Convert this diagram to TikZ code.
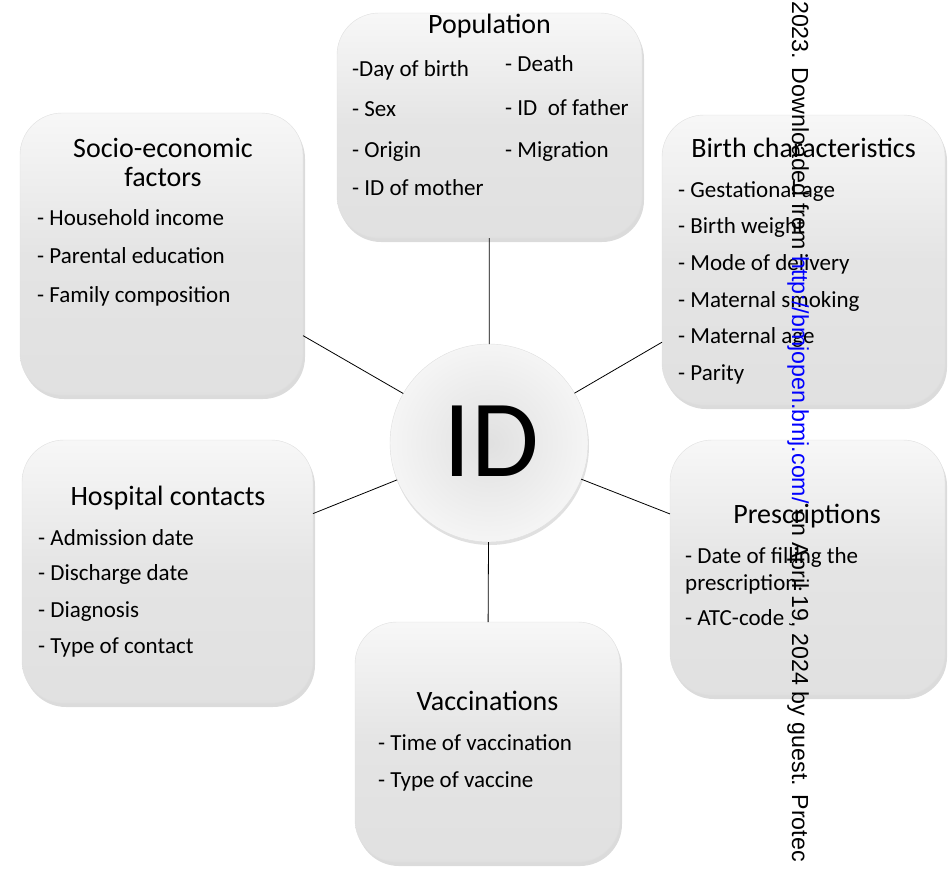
\documentclass[tikz,border=0pt]{standalone}
\usepackage{fontspec}
\setmainfont{Carlito}
\newfontfamily\marcafont{Liberation Sans}
\usetikzlibrary{shadows}

\tikzset{
	caja/.style={rectangle, rounded corners=42pt, inner sep=0pt, outer sep=0pt,
		draw=gray!25, top color=gray!6, bottom color=gray!24, middle color=gray!21,
		drop shadow={shadow xshift=2pt, shadow yshift=-4pt, opacity=.35, fill=gray!80}},
	bola/.style={circle, inner sep=0pt, outer sep=0pt, minimum size=198pt,
		draw=gray!25, inner color=gray!24, outer color=gray!8,
		drop shadow={shadow xshift=1pt, shadow yshift=-3pt, opacity=.3, fill=gray!80}},
	titulo/.style={anchor=base, inner sep=0pt, font=\fontsize{28}{28}\selectfont},
	dato/.style={anchor=base west, inner sep=0pt, font=\fontsize{23}{23}\selectfont},
	enlace/.style={line width=0.8pt}
}

\begin{document}
\begin{tikzpicture}[x=1pt, y=-1pt]
	\useasboundingbox (0,0) rectangle (949,872);
	\clip (0,0) rectangle (949,872);
	
	% Cajas
	\node[caja, minimum width=305pt, minimum height=225pt] (pob) at (489.5,125.5) {};
	\node[caja, minimum width=283pt, minimum height=290pt] (nac) at (803.5,260) {};
	\node[caja, minimum width=283pt, minimum height=282pt] (soc) at (161.5,254) {};
	\node[caja, minimum width=291pt, minimum height=263pt] (hosp) at (167.5,571.5) {};
	\node[caja, minimum width=275pt, minimum height=255pt] (rec) at (807.5,567.5) {};
	\node[caja, minimum width=265pt, minimum height=240pt] (vac) at (487.5,742) {};
	
	% Centro
	\node[bola] (id) at (489,443) {};
	\node[anchor=base, inner sep=0pt, font=\fontsize{110}{110}\selectfont] (idtxt) at (491,476) {ID};
	
	% Conexiones
	\foreach \n in {pob,nac,rec,vac,hosp,soc}
		\draw[enlace] (id) -- (\n);
	
	% Population
	\node[titulo] (pobtit) at (489.5,34) {Population};
	\foreach \y/\txt [count=\i] in {77/{-Day of birth}, 117/{- Sex}, 157/{- Origin}, 195/{- ID of mother}}
		\node[dato] (pobi\i) at (352,\y) {\txt};
	\foreach \y/\txt [count=\i] in {72/{- Death}, 115/{- ID~ of father}, 157/{- Migration}}
		\node[dato] (pobd\i) at (505,\y) {\txt};
	
	% Birth characteristics
	\node[titulo] (nactit) at (803.5,157) {Birth characteristics};
	\foreach \y/\txt [count=\i] in {197/{- Gestational age}, 233/{- Birth weight}, 270/{- Mode of delivery},
		307/{- Maternal smoking}, 343/{- Maternal age}, 380/{- Parity}}
		\node[dato] (nac\i) at (678,\y) {\txt};
	
	% Socio-economic factors
	\node[titulo] (soctit) at (163,157) {Socio-economic};
	\node[titulo] (soctitb) at (163,186) {factors};
	\foreach \y/\txt [count=\i] in {225/{- Household income}, 263/{- Parental education}, 302/{- Family composition}}
		\node[dato] (soc\i) at (37,\y) {\txt};
	
	% Hospital contacts
	\node[titulo] (hosptit) at (168,505) {Hospital contacts};
	\foreach \y/\txt [count=\i] in {545/{- Admission date}, 580/{- Discharge date}, 617/{- Diagnosis}, 653/{- Type of contact}}
		\node[dato] (hosp\i) at (38,\y) {\txt};
	
	% Prescriptions
	\node[titulo] (rectit) at (807,523) {Prescriptions};
	\foreach \y/\txt [count=\i] in {563/{- Date of filling the}, 590/{prescription.}, 625/{- ATC-code}}
		\node[dato] (rec\i) at (685,\y) {\txt};
	
	% Vaccinations
	\node[titulo] (vactit) at (487.5,710) {Vaccinations};
	\foreach \y/\txt [count=\i] in {750/{- Time of vaccination}, 787/{- Type of vaccine}}
		\node[dato] (vac\i) at (378,\y) {\txt};
	
	% Marca lateral
	\node[rotate=-90, anchor=base west, inner sep=0pt, font=\marcafont\fontsize{23.2}{24}\selectfont] (marca) at (792,1)
		{2023. Downloaded from \textcolor{blue}{http://bmjopen.bmj.com/} on April 19, 2024 by guest. Protec};
\end{tikzpicture}
\end{document}
